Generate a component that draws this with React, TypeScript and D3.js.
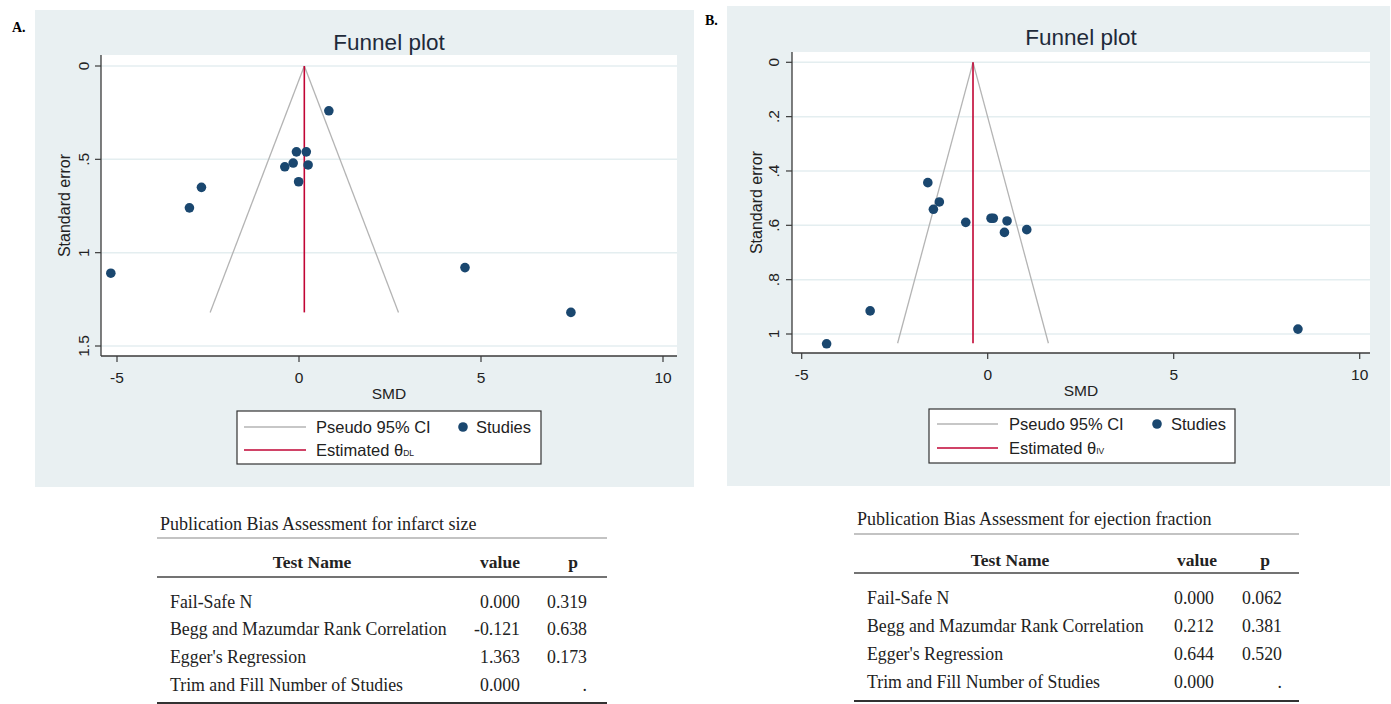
import * as d3 from 'd3';

// ---- Panel A: infarct size ----
const smdA = [0.82, -0.07, 0.2, -0.16, -0.39, 0.25, -0.01, -2.68, -3.01, -5.17, 4.56, 7.47];
const seA = [0.24, 0.46, 0.46, 0.52, 0.54, 0.53, 0.62, 0.65, 0.76, 1.11, 1.08, 1.32];
const thetaA = 0.146;
const seMaxA = 1.32;
const yTicksA = [0, 0.5, 1, 1.5];
const yTickLabelsA = ['0', '.5', '1', '1.5'];

// ---- Panel B: ejection fraction ----
const smdB = [-1.61, -1.3, -1.46, -0.59, 0.09, 0.15, 0.52, 0.45, 1.05, -3.16, -4.33, 8.34];
const seB = [0.443, 0.514, 0.541, 0.589, 0.574, 0.574, 0.584, 0.626, 0.616, 0.915, 1.036, 0.982];
const thetaB = -0.395;
const seMaxB = 1.034;
const yTicksB = [0, 0.2, 0.4, 0.6, 0.8, 1];
const yTickLabelsB = ['0', '.2', '.4', '.6', '.8', '1'];

const xTicks = [-5, 0, 5, 10];

// ---- Tables ----
const testNames = ['Fail-Safe N', 'Begg and Mazumdar Rank Correlation', "Egger's Regression", 'Trim and Fill Number of Studies'];
const valuesA = ['0.000', '-0.121', '1.363', '0.000'];
const pA = ['0.319', '0.638', '0.173', '.'];
const valuesB = ['0.000', '0.212', '0.644', '0.000'];
const pB = ['0.062', '0.381', '0.520', '.'];

const SANS = 'Liberation Sans, Arial, sans-serif';
const SERIF = 'Liberation Serif, Times New Roman, serif';
const NAVY = '#1a476f';
const RED = '#c10534';
const GRAY = '#b4b4b4';

interface PanelProps {
  letter: string;
  bg: [number, number, number, number];
  letterPos: [number, number];
  frame: { left: number; right: number; top: number; bottom: number };
  xRange: [number, number];
  yDomain: [number, number];
  yRange: [number, number];
  yTicks: number[];
  yTickLabels: string[];
  smd: number[];
  se: number[];
  theta: number;
  seMax: number;
  sub: string;
  legend: { x0: number; x1: number; y0: number; y1: number; row1: number; row2: number; lineX0: number; lineX1: number; textX: number; dotX: number; studiesX: number };
  yLabelX: number;
  yTickLabelX: number;
  titleY: number;
}

function FunnelPanel(p: PanelProps) {
  const x = d3.scaleLinear().domain([-5, 10]).range(p.xRange);
  const y = d3.scaleLinear().domain(p.yDomain).range(p.yRange);
  const { left, right, top, bottom } = p.frame;
  const cx = (left + right) / 2;

  const ciLine = d3
    .line<[number, number]>()
    .x((d) => x(d[0]))
    .y((d) => y(d[1]));
  const ciLeft: [number, number][] = [[p.theta, 0], [p.theta - 1.96 * p.seMax, p.seMax]];
  const ciRight: [number, number][] = [[p.theta, 0], [p.theta + 1.96 * p.seMax, p.seMax]];
  const est: [number, number][] = [[p.theta, 0], [p.theta, p.seMax]];

  const lg = p.legend;
  return (
    <g>
      <rect x={p.bg[0]} y={p.bg[1]} width={p.bg[2] - p.bg[0]} height={p.bg[3] - p.bg[1]} fill="#e9f0f2" />
      <text x={p.letterPos[0]} y={p.letterPos[1]} fontFamily={SERIF} fontWeight="bold" fontSize={14}>{p.letter}</text>
      <text x={cx} y={p.titleY} fontFamily={SANS} fontSize={22.5} textAnchor="middle" dominantBaseline="central" fill="#1e2a3a">Funnel plot</text>
      <rect x={left} y={top} width={right - left} height={bottom - top} fill="#ffffff" />
      {p.yTicks.map((t) => (
        <line key={`g${t}`} x1={left} x2={right} y1={y(t)} y2={y(t)} stroke="#e4eef0" strokeWidth={1.5} />
      ))}
      <path d={ciLine(ciLeft) ?? ''} fill="none" stroke={GRAY} strokeWidth={1.3} />
      <path d={ciLine(ciRight) ?? ''} fill="none" stroke={GRAY} strokeWidth={1.3} />
      <path d={ciLine(est) ?? ''} fill="none" stroke={RED} strokeWidth={1.6} />
      {p.smd.map((v, i) => (
        <circle key={i} cx={x(v)} cy={y(p.se[i])} r={4.8} fill={NAVY} />
      ))}
      {/* axes */}
      <line x1={left} x2={left} y1={top} y2={bottom} stroke="#3a3a3a" strokeWidth={1.3} />
      <line x1={left} x2={right} y1={bottom} y2={bottom} stroke="#3a3a3a" strokeWidth={1.3} />
      {p.yTicks.map((t, i) => (
        <g key={`y${t}`}>
          <line x1={left - 6} x2={left} y1={y(t)} y2={y(t)} stroke="#3a3a3a" strokeWidth={1.2} />
          <text
            transform={`translate(${p.yTickLabelX},${y(t)}) rotate(-90)`}
            textAnchor="middle"
            dominantBaseline="central"
            fontFamily={SANS}
            fontSize={15.5}
            fill="#222"
          >
            {p.yTickLabels[i]}
          </text>
        </g>
      ))}
      {xTicks.map((t) => (
        <g key={`x${t}`}>
          <line x1={x(t)} x2={x(t)} y1={bottom} y2={bottom + 6} stroke="#3a3a3a" strokeWidth={1.2} />
          <text x={x(t)} y={bottom + 21} textAnchor="middle" dominantBaseline="central" fontFamily={SANS} fontSize={15.5} fill="#222">{t}</text>
        </g>
      ))}
      <text x={cx} y={bottom + 37} textAnchor="middle" dominantBaseline="central" fontFamily={SANS} fontSize={15.5} fill="#222">SMD</text>
      <text
        transform={`translate(${p.yLabelX},${(top + bottom) / 2}) rotate(-90)`}
        textAnchor="middle"
        dominantBaseline="central"
        fontFamily={SANS}
        fontSize={16}
        fill="#222"
      >
        Standard error
      </text>
      {/* legend */}
      <rect x={lg.x0} y={lg.y0} width={lg.x1 - lg.x0} height={lg.y1 - lg.y0} fill="#ffffff" stroke="#333" strokeWidth={1.2} />
      <line x1={lg.lineX0} x2={lg.lineX1} y1={lg.row1} y2={lg.row1} stroke={GRAY} strokeWidth={1.5} />
      <text x={lg.textX} y={lg.row1} dominantBaseline="central" fontFamily={SANS} fontSize={16.5} fill="#222">Pseudo 95% CI</text>
      <circle cx={lg.dotX} cy={lg.row1} r={4.8} fill={NAVY} />
      <text x={lg.studiesX} y={lg.row1} dominantBaseline="central" fontFamily={SANS} fontSize={16.5} fill="#222">Studies</text>
      <line x1={lg.lineX0} x2={lg.lineX1} y1={lg.row2} y2={lg.row2} stroke={RED} strokeWidth={1.6} />
      <text x={lg.textX} y={lg.row2} dominantBaseline="central" fontFamily={SANS} fontSize={16.5} fill="#222">
        Estimated θ<tspan fontSize={8.5} dy={3}>{p.sub}</tspan>
      </text>
    </g>
  );
}

interface TableProps {
  title: string;
  left: number;
  right: number;
  titleY: number;
  topLine: number;
  headerY: number;
  headerLine: number;
  rowY: number[];
  bottomLine: number;
  nameCenter: number;
  valueCenter: number;
  pCenter: number;
  valueRight: number;
  pRight: number;
  values: string[];
  ps: string[];
}

function BiasTable(t: TableProps) {
  return (
    <g fontFamily={SERIF} fill="#222">
      <text x={t.left + 3} y={t.titleY} dominantBaseline="central" fontSize={18}>{t.title}</text>
      <line x1={t.left} x2={t.right} y1={t.topLine} y2={t.topLine} stroke="#888" strokeWidth={1.2} />
      <text x={t.nameCenter} y={t.headerY} textAnchor="middle" dominantBaseline="central" fontSize={17.5} fontWeight="bold">Test Name</text>
      <text x={t.valueCenter} y={t.headerY} textAnchor="middle" dominantBaseline="central" fontSize={17.5} fontWeight="bold">value</text>
      <text x={t.pCenter} y={t.headerY} textAnchor="middle" dominantBaseline="central" fontSize={17.5} fontWeight="bold">p</text>
      <line x1={t.left} x2={t.right} y1={t.headerLine} y2={t.headerLine} stroke="#444" strokeWidth={1.5} />
      {testNames.map((n, i) => (
        <g key={n}>
          <text x={t.left + 13} y={t.rowY[i]} dominantBaseline="central" fontSize={17.8}>{n}</text>
          <text x={t.valueRight} y={t.rowY[i]} textAnchor="end" dominantBaseline="central" fontSize={17.8}>{t.values[i]}</text>
          <text x={t.pRight} y={t.rowY[i]} textAnchor="end" dominantBaseline="central" fontSize={17.8}>{t.ps[i]}</text>
        </g>
      ))}
      <line x1={t.left} x2={t.right} y1={t.bottomLine} y2={t.bottomLine} stroke="#333" strokeWidth={2} />
    </g>
  );
}

export default function App() {
  return (
    <svg width={1391} height={704} style={{ position: 'absolute', left: 0, top: 0, background: '#ffffff' }}>
      <FunnelPanel
        letter="A."
        bg={[35, 10, 694, 487]}
        letterPos={[12, 32]}
        frame={{ left: 101, right: 677, top: 55, bottom: 356 }}
        xRange={[117, 663]}
        yDomain={[0, 1.5]}
        yRange={[66, 346]}
        yTicks={yTicksA}
        yTickLabels={yTickLabelsA}
        smd={smdA}
        se={seA}
        theta={thetaA}
        seMax={seMaxA}
        sub="DL"
        legend={{ x0: 237, x1: 541, y0: 411, y1: 464, row1: 427, row2: 450, lineX0: 244, lineX1: 306, textX: 316, dotX: 463, studiesX: 476 }}
        yLabelX={64}
        yTickLabelX={83}
        titleY={42}
      />
      <FunnelPanel
        letter="B."
        bg={[727, 6, 1390, 486]}
        letterPos={[705, 25]}
        frame={{ left: 792, right: 1370, top: 52, bottom: 353 }}
        xRange={[801.7, 1359.7]}
        yDomain={[0, 1]}
        yRange={[62.3, 334]}
        yTicks={yTicksB}
        yTickLabels={yTickLabelsB}
        smd={smdB}
        se={seB}
        theta={thetaB}
        seMax={seMaxB}
        sub="IV"
        legend={{ x0: 929, x1: 1235, y0: 409, y1: 463, row1: 424, row2: 448, lineX0: 937, lineX1: 998, textX: 1009, dotX: 1157, studiesX: 1171 }}
        yLabelX={756}
        yTickLabelX={773}
        titleY={37}
      />
      <BiasTable
        title="Publication Bias Assessment for infarct size"
        left={157}
        right={607}
        titleY={524}
        topLine={538}
        headerY={562}
        headerLine={577}
        rowY={[602, 629, 657, 685]}
        bottomLine={703}
        nameCenter={312}
        valueCenter={500}
        pCenter={573}
        valueRight={520}
        pRight={587}
        values={valuesA}
        ps={pA}
      />
      <BiasTable
        title="Publication Bias Assessment for ejection fraction"
        left={854}
        right={1299}
        titleY={519}
        topLine={534}
        headerY={560}
        headerLine={573}
        rowY={[598, 626, 654, 682]}
        bottomLine={701}
        nameCenter={1010}
        valueCenter={1197}
        pCenter={1265}
        valueRight={1214}
        pRight={1282}
        values={valuesB}
        ps={pB}
      />
    </svg>
  );
}
